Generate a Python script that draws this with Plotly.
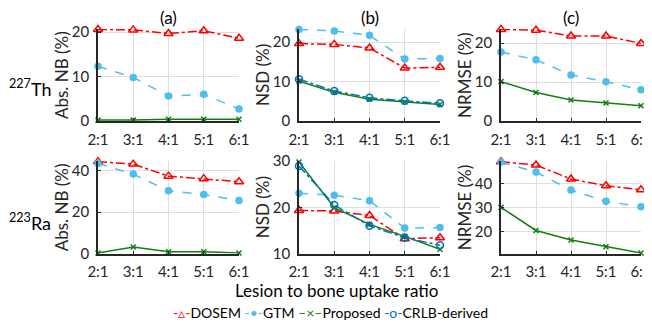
import plotly.graph_objects as go

ratios = ["2:1", "3:1", "4:1", "5:1", "6:1"]

# 227Th
th_nb_dosem = [20.6, 20.5, 19.7, 20.3, 18.6]
th_nb_gtm = [12.3, 9.8, 5.6, 6.0, 2.7]
th_nb_prop = [0.2, 0.2, 0.4, 0.4, 0.4]
th_nsd_dosem = [19.6, 19.4, 18.5, 13.4, 13.6]
th_nsd_gtm = [23.2, 22.8, 21.7, 15.7, 15.8]
th_nsd_prop = [10.1, 7.3, 5.5, 4.8, 4.2]
th_nsd_crlb = [10.6, 7.6, 5.9, 5.1, 4.5]
th_nrmse_dosem = [23.5, 23.3, 21.8, 21.8, 19.9]
th_nrmse_gtm = [17.7, 15.7, 11.8, 10.1, 8.0]
th_nrmse_prop = [10.1, 7.3, 5.4, 4.6, 3.9]

# 223Ra
ra_nb_dosem = [44.3, 43.1, 37.3, 36.1, 34.6]
ra_nb_gtm = [43.4, 38.3, 30.2, 28.4, 25.5]
ra_nb_prop = [0.2, 3.1, 0.8, 0.8, 0.2]
ra_nsd_dosem = [19.3, 19.2, 18.2, 13.2, 13.4]
ra_nsd_gtm = [23.0, 22.6, 21.4, 15.5, 15.6]
ra_nsd_prop = [29.8, 19.9, 16.3, 13.7, 10.9]
ra_nsd_crlb = [28.9, 20.5, 16.0, 13.4, 11.8]
ra_nrmse_dosem = [49.0, 47.6, 41.8, 39.0, 37.3]
ra_nrmse_gtm = [48.9, 44.7, 37.2, 32.5, 30.3]
ra_nrmse_prop = [30.0, 20.4, 16.4, 13.6, 11.0]

method_names = ["DOSEM", "GTM", "Proposed", "CRLB-derived"]

# page body margin offset (browser default 8px)
OFF = 8
W, H = 652 - OFF, 325 - OFF
FONT = "Lato"
TXT = "#262626"


def px(v):
    return (v - OFF) / W


def py(v):
    return 1 - (v - OFF) / H


styles = {
    "DOSEM": dict(color="#FF0000", dash="dashdot", symbol="triangle-up-open", msize=8, key="-▵-"),
    "GTM": dict(color="#4DBEEE", dash="dash", symbol="circle", msize=6, key="-•-"),
    "Proposed": dict(color="#118011", dash="solid", symbol="x-thin-open", msize=5, key="–×–"),
    "CRLB-derived": dict(color="#0072BD", dash="dashdot", symbol="circle-open", msize=7, key="-o-"),
}

panels = [
    (1, {"DOSEM": th_nb_dosem, "GTM": th_nb_gtm, "Proposed": th_nb_prop}, [0, 20.7], [0, 10, 20]),
    (2, {"DOSEM": th_nsd_dosem, "GTM": th_nsd_gtm, "Proposed": th_nsd_prop, "CRLB-derived": th_nsd_crlb}, [0, 23.3], [0, 10, 20]),
    (3, {"DOSEM": th_nrmse_dosem, "GTM": th_nrmse_gtm, "Proposed": th_nrmse_prop}, [0, 23.6], [0, 10, 20]),
    (4, {"DOSEM": ra_nb_dosem, "GTM": ra_nb_gtm, "Proposed": ra_nb_prop}, [0, 44.6], [0, 20, 40]),
    (5, {"DOSEM": ra_nsd_dosem, "GTM": ra_nsd_gtm, "Proposed": ra_nsd_prop, "CRLB-derived": ra_nsd_crlb}, [10, 30], [10, 20, 30]),
    (6, {"DOSEM": ra_nrmse_dosem, "GTM": ra_nrmse_gtm, "Proposed": ra_nrmse_prop}, [10.8, 49.3], [20, 30, 40]),
]

ytitles = ["Abs. NB (%)", "NSD (%)", "NRMSE (%)"]
xpix = [(98, 239), (299, 440), (501, 641)]
ypix = [(29, 121), (161, 253.5)]

fig = go.Figure()
for idx, series, yr, tv in panels:
    for name in method_names:
        if name not in series:
            continue
        st = styles[name]
        sfx = "" if idx == 1 else str(idx)
        fig.add_trace(go.Scatter(
            x=ratios, y=series[name], name=name, mode="lines+markers",
            line=dict(color=st["color"], dash=st["dash"], width=1.5),
            marker=dict(symbol=st["symbol"], size=st["msize"], color=st["color"],
                        line=dict(color=st["color"], width=1.5)),
            cliponaxis=False, showlegend=False,
            xaxis="x" + sfx, yaxis="y" + sfx,
        ))

layout = dict(
    width=W, height=H, margin=dict(l=0, r=0, t=0, b=0, autoexpand=False),
    paper_bgcolor="white", plot_bgcolor="white",
    font=dict(family=FONT, color=TXT, size=15),
    showlegend=False,
)

annotations = []
for k, (idx, series, yr, tv) in enumerate(panels):
    row, col = divmod(k, 3)
    x0, x1 = xpix[col]
    y0, y1 = ypix[row]
    sfx = "" if idx == 1 else str(idx)
    layout["xaxis" + sfx] = dict(
        domain=[px(x0), px(x1)], anchor="y" + sfx, type="category", automargin=False,
        range=[0, 4], showgrid=True, gridcolor="#DFDFDF", gridwidth=1,
        showline=True, linecolor=TXT, linewidth=1.5, ticks="inside", ticklen=3,
        tickcolor=TXT, tickfont=dict(size=15, family=FONT, color=TXT),
        zeroline=False, ticklabelstandoff=4,
    )
    layout["yaxis" + sfx] = dict(
        domain=[py(y1), py(y0)], anchor="x" + sfx, range=yr, automargin=False,
        tickvals=tv, showgrid=True, gridcolor="#DFDFDF", gridwidth=1,
        showline=True, linecolor=TXT, linewidth=1.5, ticks="inside", ticklen=3,
        tickcolor=TXT, tickfont=dict(size=15, family=FONT, color=TXT),
        zeroline=False, ticklabelstandoff=4,
    )
    annotations.append(dict(
        text=ytitles[col], textangle=-90, xref="paper", yref="paper",
        x=px(x0 - 37), y=py((y0 + y1) / 2), xanchor="center", yanchor="middle",
        showarrow=False, font=dict(size=17, family=FONT, color=TXT)))

for col, lab in enumerate(["(a)", "(b)", "(c)"]):
    x0, x1 = xpix[col]
    annotations.append(dict(
        text=lab, xref="paper", yref="paper", x=px((x0 + x1) / 2), y=py(17),
        xanchor="center", yanchor="middle", showarrow=False,
        font=dict(size=17, family=FONT, color="black")))

annotations.append(dict(text="<sup>227</sup>Th", xref="paper", yref="paper",
                        x=px(30), y=py(88), xanchor="center", yanchor="middle",
                        showarrow=False, font=dict(size=18, family=FONT, color="black")))
annotations.append(dict(text="<sup>223</sup>Ra", xref="paper", yref="paper",
                        x=px(30), y=py(222), xanchor="center", yanchor="middle",
                        showarrow=False, font=dict(size=18, family=FONT, color="black")))
annotations.append(dict(text="Lesion to bone uptake ratio", xref="paper", yref="paper",
                        x=px(336), y=py(290), xanchor="center", yanchor="middle",
                        showarrow=False, font=dict(size=17, family=FONT, color="black")))

# legend row (key glyphs + labels) as one centred line
legend_text = " ".join(
    f"<span style='color:{styles[n]['color']}'>{styles[n]['key']}</span>{n}" for n in method_names)
annotations.append(dict(
    text=legend_text, xref="paper", yref="paper", x=px(330), y=py(312),
    xanchor="center", yanchor="middle", showarrow=False,
    font=dict(size=14, family=FONT, color="black")))

layout["annotations"] = annotations
fig.update_layout(**layout)
fig.write_html("out.html")
